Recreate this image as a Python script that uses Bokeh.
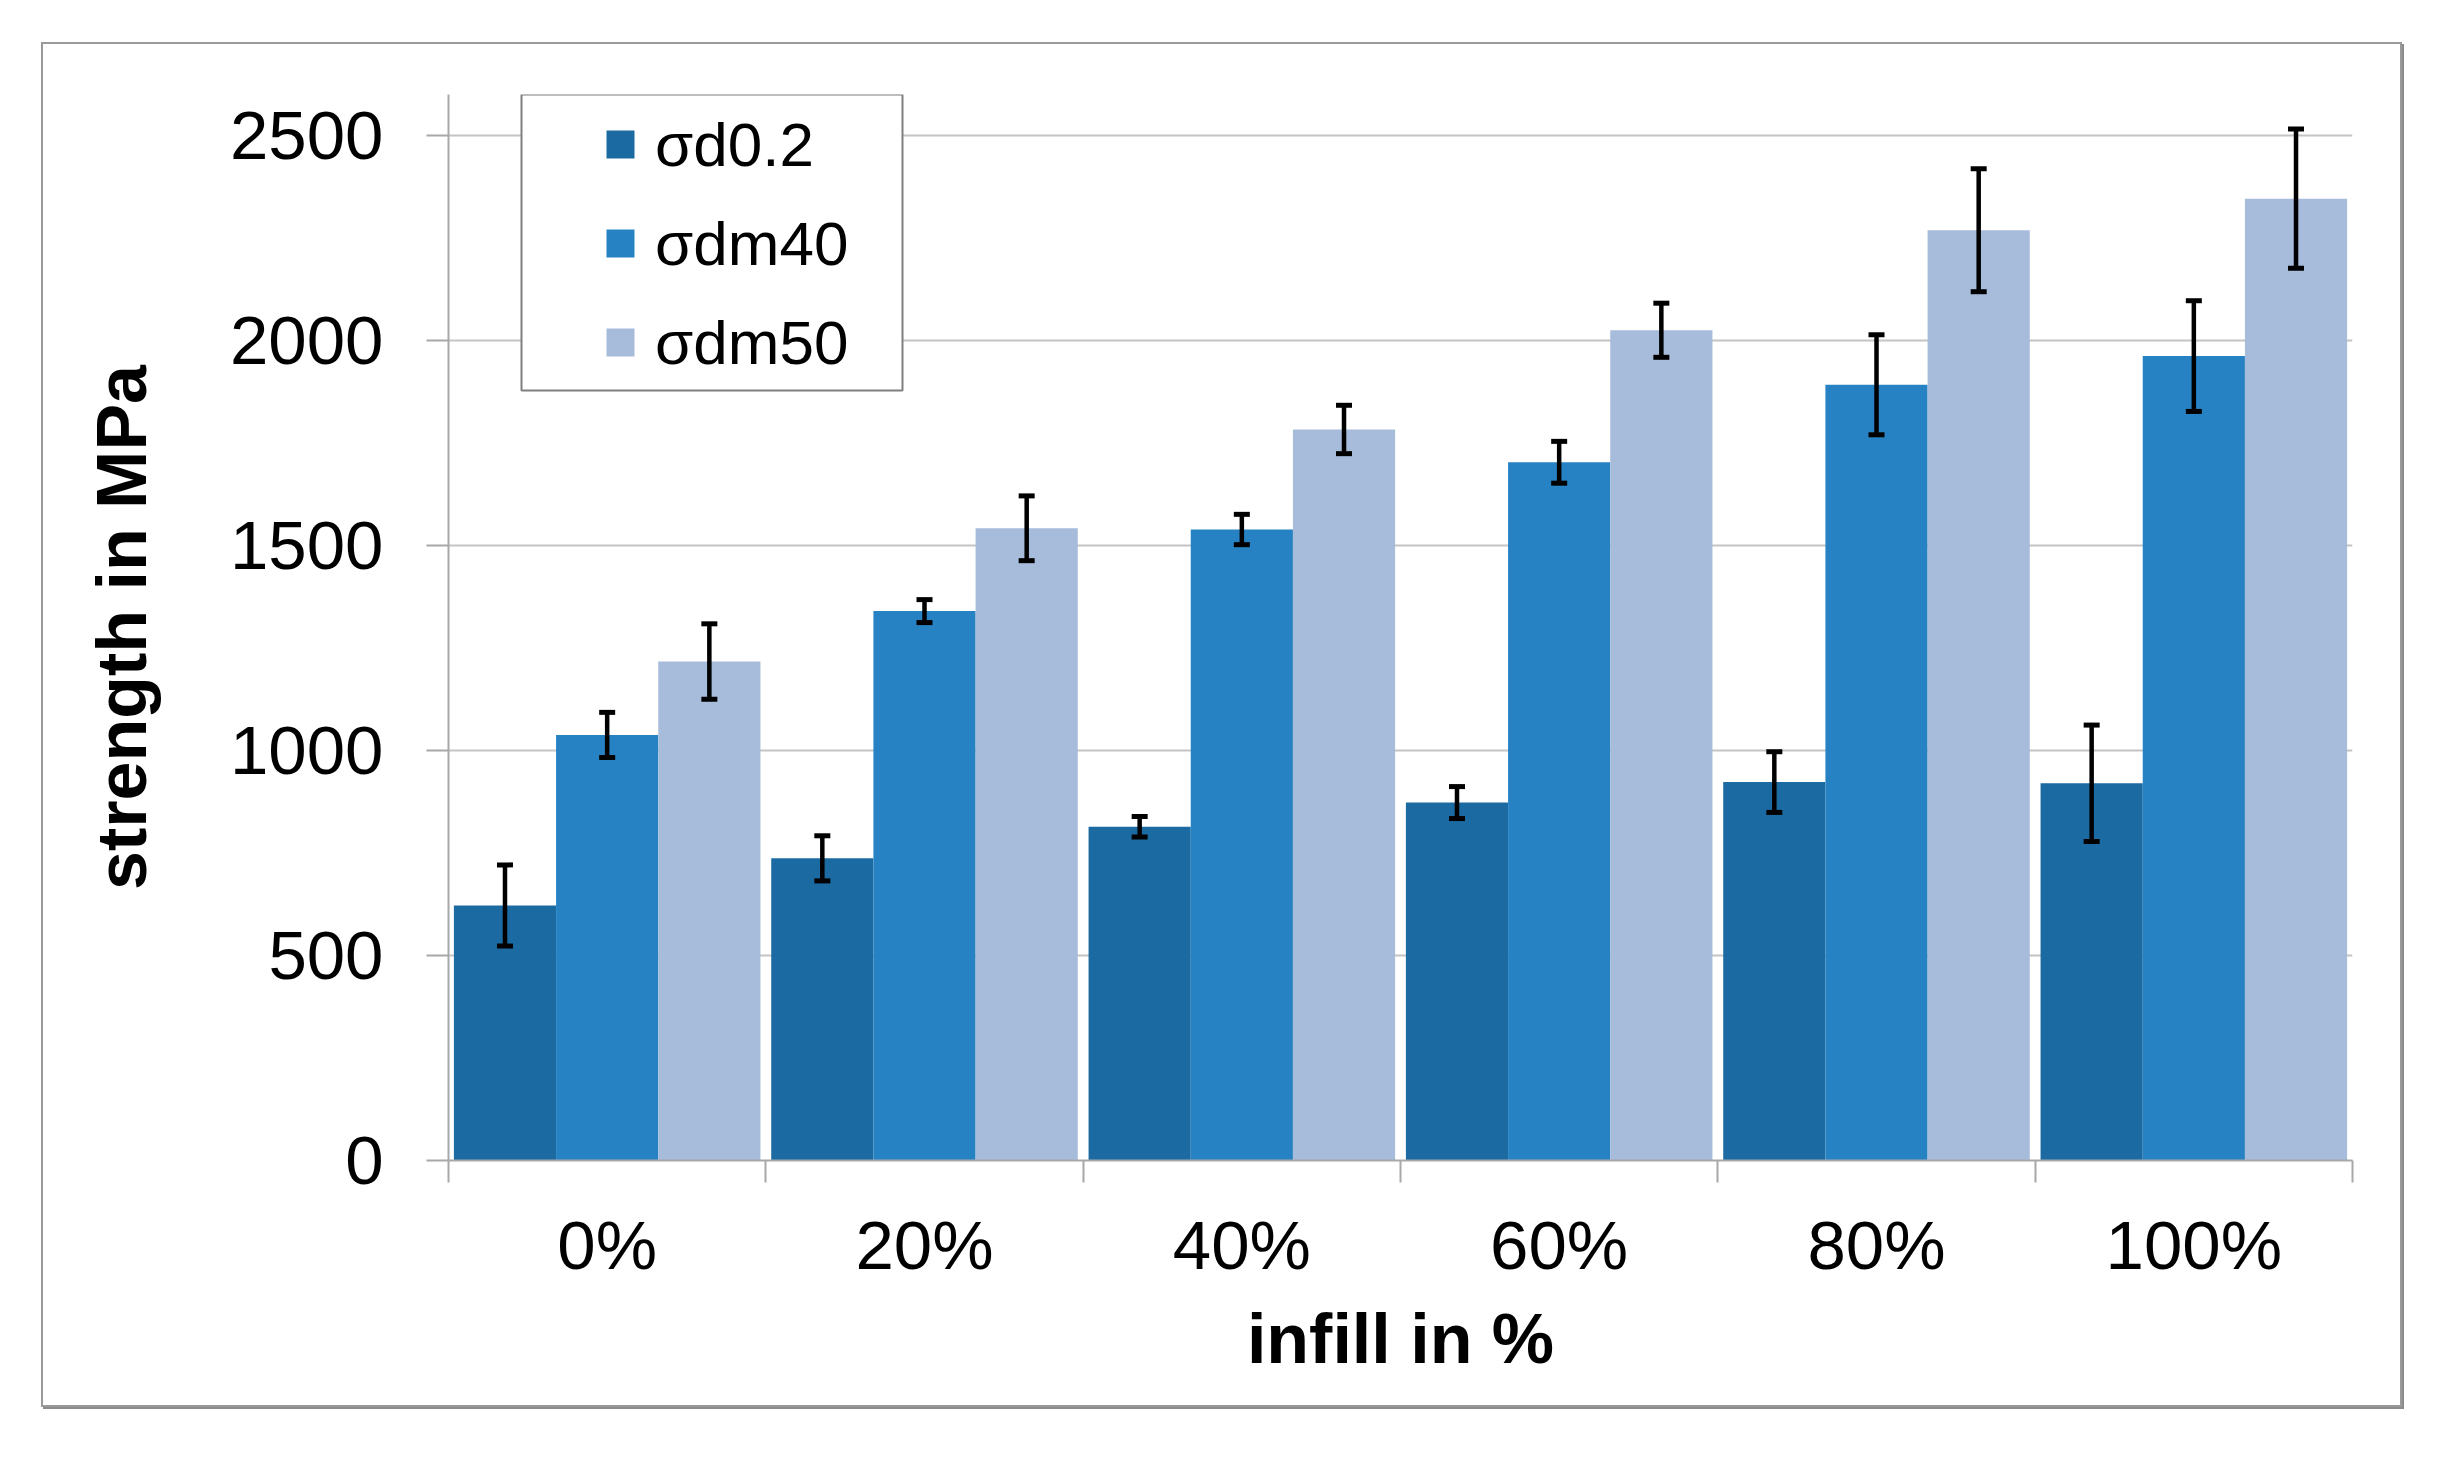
from bokeh.plotting import figure
from bokeh.models import (Range1d, FixedTicker, ColumnDataSource, Whisker, TeeHead, Legend, LegendItem,
                          BoxAnnotation)
from bokeh.transform import dodge
from bokeh.embed import file_html
from bokeh.resources import INLINE

# ---------------- data ----------------
categories = ["0%", "20%", "40%", "60%", "80%", "100%"]
series_names = ["σd0.2", "σdm40", "σdm50"]
sd02 = [622, 737, 814, 873, 923, 920]
sd02_err = [99, 55, 25, 39, 74, 142]
sdm40 = [1038, 1340, 1539, 1703, 1892, 1962]
sdm40_err = [55, 28, 37, 51, 122, 135]
sdm50 = [1217, 1542, 1783, 2025, 2269, 2346]
sdm50_err = [92, 79, 59, 66, 150, 170]
y_ticks = [0, 500, 1000, 1500, 2000, 2500]

colors = ["#1c6aa2", "#2682c2", "#a7bbdb"]
FONT = "Liberation Sans"
GRID = "#c4c4c4"
AXIS = "#a8a8a8"

n = len(categories)
centers = [i + 0.5 for i in range(n)]     # category slots on the x scale
edges = list(range(n + 1))

FRAME_H = 1066
p = figure(x_range=Range1d(0, n), y_range=Range1d(0, 2600),
           width=2361, height=1365, output_backend="svg", toolbar_location=None,
           min_border_left=405, min_border_right=52, min_border_top=50, min_border_bottom=249)
p.outline_line_color = None
p.background_fill_color = "white"
p.border_fill_color = "white"
p.xgrid.visible = False
p.ygrid.ticker = FixedTicker(ticks=y_ticks)
p.ygrid.grid_line_color = GRID
p.ygrid.grid_line_width = 2

# y axis
ya = p.yaxis[0]
ya.ticker = FixedTicker(ticks=y_ticks)
ya.minor_tick_line_color = None
ya.major_tick_out = 22
ya.major_tick_in = 0
ya.major_tick_line_color = AXIS
ya.major_tick_line_width = 2
ya.axis_line_color = AXIS
ya.axis_line_width = 2
ya.major_label_text_font = FONT
ya.major_label_text_font_size = "69px"
ya.major_label_text_color = "black"
ya.major_label_standoff = 43
ya.axis_label = "strength in MPa"
ya.axis_label_text_font = FONT
ya.axis_label_text_font_size = "70px"
ya.axis_label_text_font_style = "bold"
ya.axis_label_text_color = "black"
ya.axis_label_standoff = 66

# x axis: labels at category centres, tick marks at category boundaries
xa = p.xaxis[0]
xa.ticker = FixedTicker(ticks=centers, minor_ticks=edges)
xa.major_label_overrides = {c: lab for c, lab in zip(centers, categories)}
xa.major_tick_line_color = None
xa.major_tick_out = 22
xa.major_tick_in = 0
xa.minor_tick_line_color = AXIS
xa.minor_tick_line_width = 2
xa.minor_tick_out = 22
xa.minor_tick_in = 0
xa.axis_line_color = AXIS
xa.axis_line_width = 2
xa.major_label_text_font = FONT
xa.major_label_text_font_size = "69px"
xa.major_label_text_color = "black"
xa.major_label_standoff = 24
xa.axis_label = "infill in %"
xa.axis_label_text_font = FONT
xa.axis_label_text_font_size = "70px"
xa.axis_label_text_font_style = "bold"
xa.axis_label_text_color = "black"
xa.axis_label_standoff = 13

# legend frame (white box with grey border, in screen units from the frame's bottom-left)
legend_box = BoxAnnotation(left=73, right=454, top=FRAME_H, bottom=FRAME_H - 296,
                           left_units="screen", right_units="screen",
                           top_units="screen", bottom_units="screen",
                           fill_color="white", fill_alpha=1.0,
                           line_color="#7f7f7f", line_width=2, line_alpha=1.0)
p.add_layout(legend_box)

# bars + error bars
bar_w = 0.322
offsets = [-bar_w, 0.0, bar_w]
vals = [sd02, sdm40, sdm50]
errs = [sd02_err, sdm40_err, sdm50_err]
legend_items = []
for name, v, e, off, col in zip(series_names, vals, errs, offsets, colors):
    src = ColumnDataSource(dict(xc=centers, cat=categories, top=v,
                                lower=[a - b for a, b in zip(v, e)],
                                upper=[a + b for a, b in zip(v, e)]))
    p.vbar(x=dodge("xc", off), top="top", width=bar_w, source=src,
           fill_color=col, line_color=None)
    w = Whisker(base=dodge("xc", off), upper="upper", lower="lower", source=src,
                level="overlay", line_color="black", line_width=4.5,
                upper_head=TeeHead(size=16, line_width=5, line_color="black"),
                lower_head=TeeHead(size=16, line_width=5, line_color="black"))
    p.add_layout(w)
    # zero-size square markers: invisible on the plot, give a centred square swatch in the legend
    lr = p.scatter(x=dodge("xc", off), y="top", source=src, marker="square", size=0,
                   fill_color=col, line_color=None)
    legend_items.append(LegendItem(label=name, renderers=[lr]))

legend = Legend(items=legend_items, location=(137, 782),
                orientation="vertical",
                padding=0, spacing=27, margin=0,
                glyph_width=70, glyph_height=72, label_height=72,
                label_standoff=0, label_text_font=FONT, label_text_font_size="62px",
                label_text_color="black",
                border_line_color=None, background_fill_alpha=0.0)
p.add_layout(legend, "center")

p.styles = {"border": "2px solid #9a9a9a", "box-shadow": "2px 2px 0px #8c8c8c"}
p.margin = (42, 0, 0, 41)

open("out.html", "w").write(file_html(p, INLINE))
